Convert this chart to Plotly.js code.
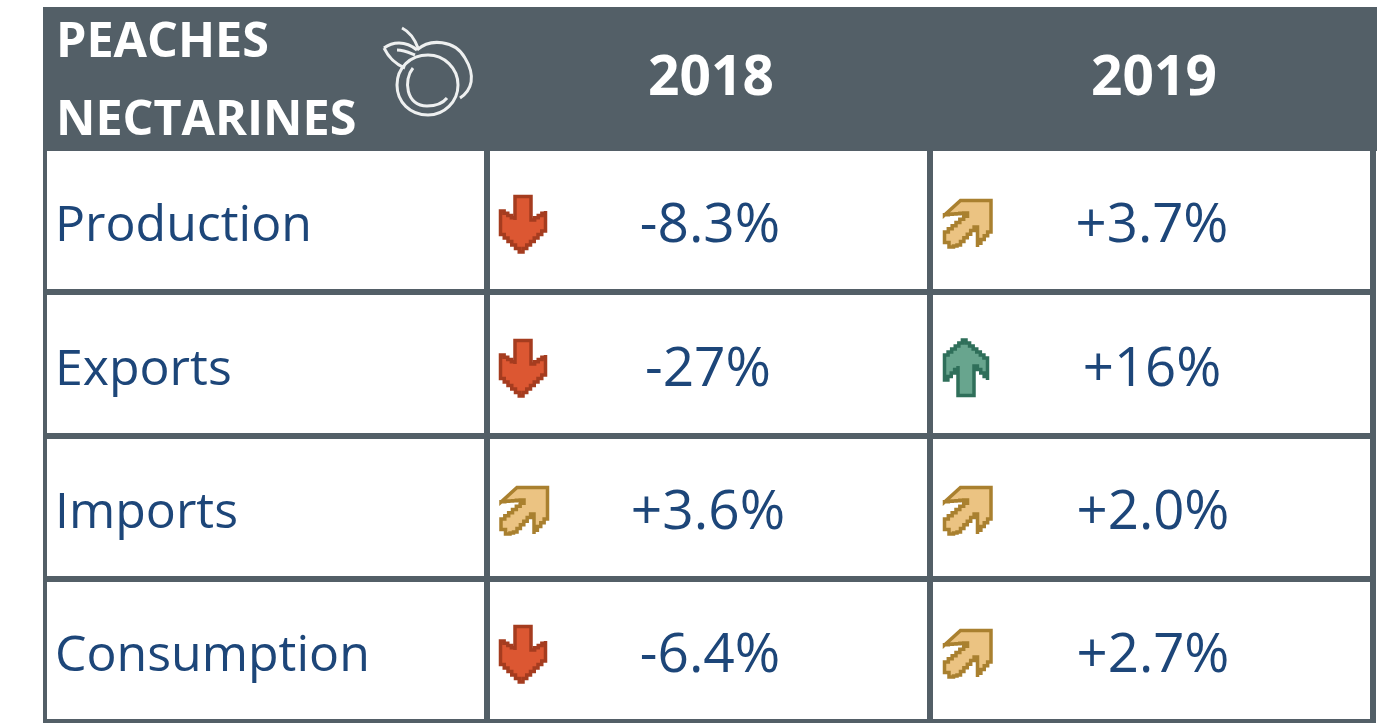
<!DOCTYPE html>
<html><head><meta charset="utf-8">
<script src="https://cdn.plot.ly/plotly-3.0.1.min.js"></script>
<style>html,body{margin:0;padding:0;background:#fff}#c{width:1390px;height:723px}</style></head>
<body><div id="c"></div>
<script>
const title1 = "PEACHES";
const title2 = "NECTARINES";
const years = ["2018", "2019"];
const rowNames = ["Production", "Exports", "Imports", "Consumption"];
const values2018 = ["-8.3%", "-27%", "+3.6%", "-6.4%"];
const values2019 = ["+3.7%", "+16%", "+2.0%", "+2.7%"];
const trend2018 = ["down", "down", "slightUp", "down"];
const trend2019 = ["slightUp", "up", "slightUp", "slightUp"];

const DARK = "#535f67", BLUE = "#1d4679";
const FONT = "Open Sans";
const shapes = [];
const rect = (x0, y0, x1, y1, fill) => shapes.push({type:"rect", x0, y0, x1, y1, fillcolor:fill, line:{width:0}, layer:"below"});
rect(43, 7, 1377, 151, DARK);
rect(43, 151, 47, 723, DARK);
rect(484, 151, 490, 723, DARK);
rect(927, 151, 933, 723, DARK);
rect(1370, 151, 1376, 723, DARK);
rect(43, 289, 1376, 295, DARK);
rect(43, 433, 1376, 439, DARK);
rect(43, 576, 1376, 582, DARK);
rect(43, 719, 1376, 723, DARK);
const rowCenter = [224, 368, 511, 654];
const textY = rowCenter.map(y => y + 4);
const iconX = [[523, 525], [966, 968.5]];

function stepped(pts, s) {
  let d = "";
  pts.forEach((p, i) => {
    if (i === 0) { d += `M${p[0]},${p[1]}`; return; }
    const q = pts[i-1], dx = p[0]-q[0], dy = p[1]-q[1];
    const n = (dx !== 0 && dy !== 0) ? Math.max(1, Math.round(Math.max(Math.abs(dx), Math.abs(dy))/s)) : 1;
    for (let k = 1; k <= n; k++) {
      const xa = q[0]+dx*k/n, ya = q[1]+dy*k/n;
      if (n > 1) d += `L${xa},${q[1]+dy*(k-1)/n}`;
      d += `L${xa},${ya}`;
    }
  });
  return d + "Z";
}
const downShape = [[-8,-27.5],[8,-27.5],[8,-4],[22.5,-13],[22.5,7],[0,28],[-22.5,7],[-22.5,-13],[-8,-4]];
const upShape = [[-8,27.5],[8,27.5],[8,-2],[21.5,12],[21.5,-10],[0,-28],[-21.5,-10],[-21.5,12],[-8,-2]];
const slantShape = [[-8,-23.5],[22.5,-23.5],[22.5,8],[9,23],[9,3],[-8,21],[-15,23],[-24,14],[-24,8],[-1,-11],[-24,-9]];
const icons = {
  down:{pts:downShape, fill:"#dc5732", line:"#a53c1f"},
  up:{pts:upShape, fill:"#68a58e", line:"#2f6f5a"},
  slightUp:{pts:slantShape, fill:"#ebc382", line:"#a9802f"}
};
function arrow(kind, cx, cy) {
  const ic = icons[kind];
  shapes.push({type:"path", path:stepped(ic.pts.map(p => [p[0]+cx, p[1]+cy]), 3.7), fillcolor:ic.fill, line:{color:ic.line, width:3.5}, layer:"above"});
}
[trend2018, trend2019].forEach((t, c) => t.forEach((k, r) => arrow(k, iconX[c][k==="slightUp"?1:0], rowCenter[r])));

["M417,50 C430,38 455,40 465,58 C476,76 472,90 460,98",
 "M458,85 C458,68 444,55 428,55 C410,55 397,68 397,85 C397,102 410,115 428,115 C444,115 458,102 458,85 Z",
 "M413,68 C403,80 406,106 427,106 C435,106 443,103 447,98",
 "M384,48 C392,42 405,40 417,50 M384,48 C388,56 393,63 405,68 M397,50 C404,50 410,53 415,55",
 "M402,28 C410,32 415,40 418,48"].forEach(path =>
  shapes.push({type:"path", path, line:{color:"#eef0f0", width:3}, layer:"above"}));

const textTrace = (x, y, text, size, color, anchor, weight) => ({
  type:"scatter", mode:"text", x, y, text, textposition:anchor, cliponaxis:false, hoverinfo:"skip",
  textfont:{family:FONT, size, color, weight:weight||400}, showlegend:false
});
const data = [
  textTrace([56], [45], [title1], 48.5, "#fff", "middle right", 700),
  textTrace([56], [123], [title2], 48.5, "#fff", "middle right", 700),
  textTrace([711, 1154], [81, 81], years, 55, "#fff", "middle center", 700),
  textTrace(textY.map(() => 55), textY, rowNames, 50, BLUE, "middle right"),
  textTrace([710, 708, 708, 710], textY, values2018, 55, BLUE, "middle center"),
  textTrace([1152, 1152, 1153, 1153], textY, values2019, 54.5, BLUE, "middle center")
];
Plotly.newPlot("c", data, {
  width:1390, height:723, margin:{l:0,r:0,t:0,b:0}, paper_bgcolor:"#fff", plot_bgcolor:"#fff", showlegend:false,
  xaxis:{range:[0,1390], visible:false, fixedrange:true},
  yaxis:{range:[723,0], visible:false, fixedrange:true},
  shapes
}, {displayModeBar:false, staticPlot:true});
</script></body></html>
